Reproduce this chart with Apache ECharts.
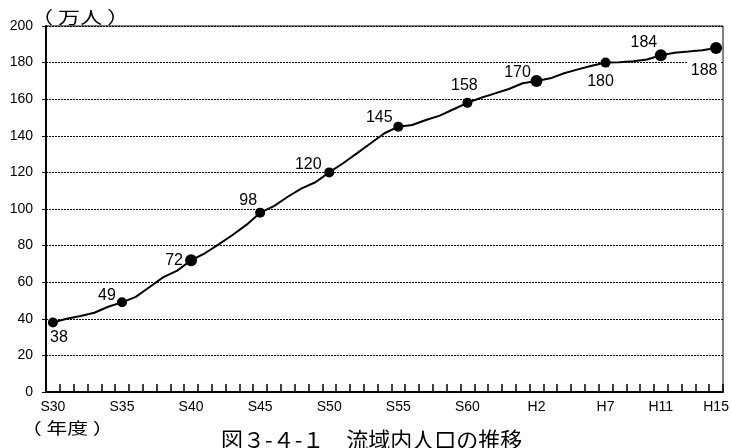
<!DOCTYPE html>
<html><head><meta charset="utf-8">
<script src="https://cdn.jsdelivr.net/npm/echarts@6/dist/echarts.min.js"></script>
<style>html,body{margin:0;padding:0;background:#fff}#c{width:732px;height:448px}</style>
</head><body><div id="c"></div>
<script>
var years = ['1955','1956','1957','1958','1959','1960','1961','1962','1963','1964',
  '1965','1966','1967','1968','1969','1970','1971','1972','1973','1974',
  '1975','1976','1977','1978','1979','1980','1981','1982','1983','1984',
  '1985','1986','1987','1988','1989','1990','1991','1992','1993','1994',
  '1995','1996','1997','1998','1999','2000','2001','2002','2003'];
var population = [38,40,41.5,43.3,46.6,49,52,57.4,62.8,66.3,
  72,75.8,80.7,85.8,91.3,98,101.6,106.7,111.3,114.6,
  120,125,130.4,135.9,141.4,145,145.9,148.6,151,154.5,
  158,160.8,163.2,165.6,168.7,170,171.4,174.2,176.3,178.3,
  180,180.2,180.8,181.7,184,185.4,186,186.7,188];
var labelYears = ['1955','1960','1965','1970','1975','1980','1985','1990','1995','1999','2003'];
var tickLabels = ['S30','S35','S40','S45','S50','S55','S60','H2','H7','H11','H15'];
var yTicks = [0,20,40,60,80,100,120,140,160,180,200];

// styling (not data)
var labelOffset = {
  '1955':[6,15],'1960':[-15,-7],'1965':[-17,0],'1970':[-12,-12],'1975':[-21,-8],
  '1980':[-19,-9],'1985':[-3,-17],'1990':[-19,-8],'1995':[-5,19],'1999':[-17,-13],'2003':[-12,23]
};
var bigMarker = {'1965':1,'1990':1,'1999':1,'2003':1};
var FONT = '"Liberation Sans", Arial, "Noto Sans CJK JP", sans-serif';
var CJK = '"Noto Sans CJK JP", sans-serif';

var markerData = labelYears.map(function(y){
  var v = population[years.indexOf(y)];
  var item = {value:[y, v], symbolSize: bigMarker[y] ? 12 : 10,
    label:{show:true, formatter:String(Math.round(v)), position:'inside', offset:labelOffset[y],
      align:'center', verticalAlign:'middle', color:'#000', fontSize:16, fontFamily:FONT}};
  if (y === '2003') { item.label.backgroundColor = '#fff'; item.label.padding = [1,3]; }
  return item;
});

var chart = echarts.init(document.getElementById('c'), null, {renderer:'canvas'});
chart.setOption({
  animation:false,
  backgroundColor:'#fff',
  grid:{left:46, right:9, top:26, bottom:56, show:true, borderColor:'#000', borderWidth:1, backgroundColor:'transparent'},
  xAxis:{type:'category', data:years, boundaryGap:true,
    axisLine:{lineStyle:{color:'#000', width:2}},
    axisTick:{show:true, inside:true, length:8, interval:0, lineStyle:{color:'#000', width:1.5}},
    axisLabel:{interval:function(i, v){return labelYears.indexOf(v) >= 0;},
      formatter:function(v){var k = labelYears.indexOf(v); return k >= 0 ? tickLabels[k] : '';},
      color:'#000', fontSize:14, fontFamily:FONT, margin:8},
    splitLine:{show:false}},
  yAxis:{type:'value', min:yTicks[0], max:yTicks[yTicks.length-1], interval:20,
    axisLine:{show:true, lineStyle:{color:'#000', width:2}},
    axisTick:{show:true, length:4, lineStyle:{color:'#000'}},
    axisLabel:{color:'#000', fontSize:14, fontFamily:FONT, margin:13},
    splitLine:{show:true, lineStyle:{color:'#000', width:1, type:[2,1]}}},
  series:[
    {type:'line', data:population, symbol:'none', lineStyle:{color:'#000', width:2}, z:3},
    {type:'scatter', data:markerData, itemStyle:{color:'#000', opacity:1}, z:4}
  ],
  graphic:[
    {type:'text', x:31, y:9, scaleX:1.3, style:{text:'（ 万人 ）', font:'17px ' + CJK, fill:'#000'}},
    {type:'text', x:21, y:420, scaleX:1.3, style:{text:'（ 年度 ）', font:'16px ' + CJK, fill:'#000'}},
    {type:'text', x:221, y:429, style:{text:'図３-４-１　流域内人口の推移', font:'22px ' + CJK, fill:'#000'}}
  ]
});
</script></body></html>
